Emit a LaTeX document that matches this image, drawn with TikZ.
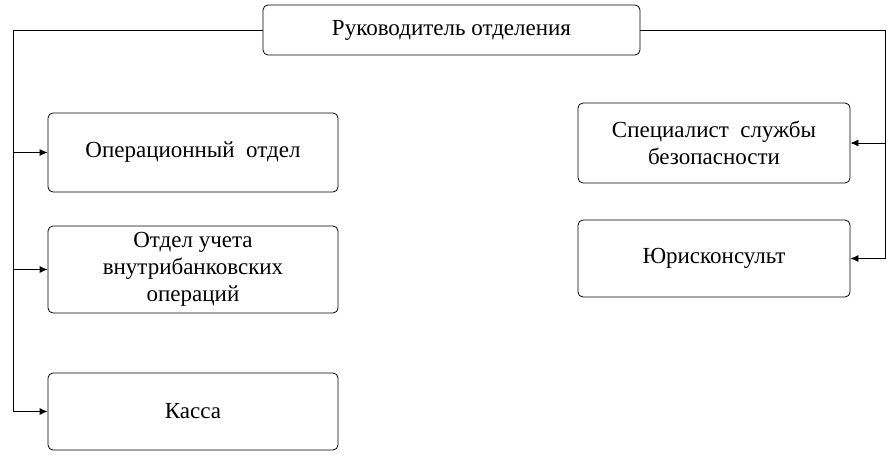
\documentclass[tikz,border=0pt]{standalone}
\usepackage{fontspec}
\setmainfont{Liberation Serif}
\usetikzlibrary{positioning,arrows.meta}
\tikzset{
  unitbox/.style={draw,rounded corners=5pt,thick,align=center,font=\fontsize{23}{27}\selectfont},
  link/.style={thick,-{Latex[length=8pt,width=7pt]}}
}
\begin{document}
\begin{tikzpicture}[x=1pt,y=-1pt]
\useasboundingbox (0,0) rectangle (888,460);
\node[unitbox,minimum width=377pt,minimum height=50pt] (head) at (451.5,30) {Руководитель отделения};

\node[unitbox,minimum width=290pt,minimum height=79pt] (oper) at (193,152.5) {Операционный\ \ отдел};
\node[unitbox,minimum width=290pt,minimum height=87pt] (uchet) at (193,269.5) {Отдел учета\\внутрибанковских\\операций};
\node[unitbox,minimum width=290pt,minimum height=77pt] (kassa) at (193,411.5) {Касса};

\node[unitbox,minimum width=272pt,minimum height=80pt] (spec) at (714,143) {Специалист\ \ службы\\безопасности};
\node[unitbox,minimum width=272pt,minimum height=77pt] (jur) at (714,258.5) {Юрисконсульт};

\coordinate (lt) at (13,30);
\coordinate (rt) at (885,30);
\draw[thick] (head.west) -- (lt) -- (lt |- kassa.west);
\draw[link] (lt |- oper.west) -- (oper.west);
\draw[link] (lt |- uchet.west) -- (uchet.west);
\draw[link] (lt |- kassa.west) -- (kassa.west);

\draw[thick] (head.east) -- (rt) -- (rt |- jur.east);
\draw[link] (rt |- spec.east) -- (spec.east);
\draw[link] (rt |- jur.east) -- (jur.east);
\end{tikzpicture}
\end{document}
